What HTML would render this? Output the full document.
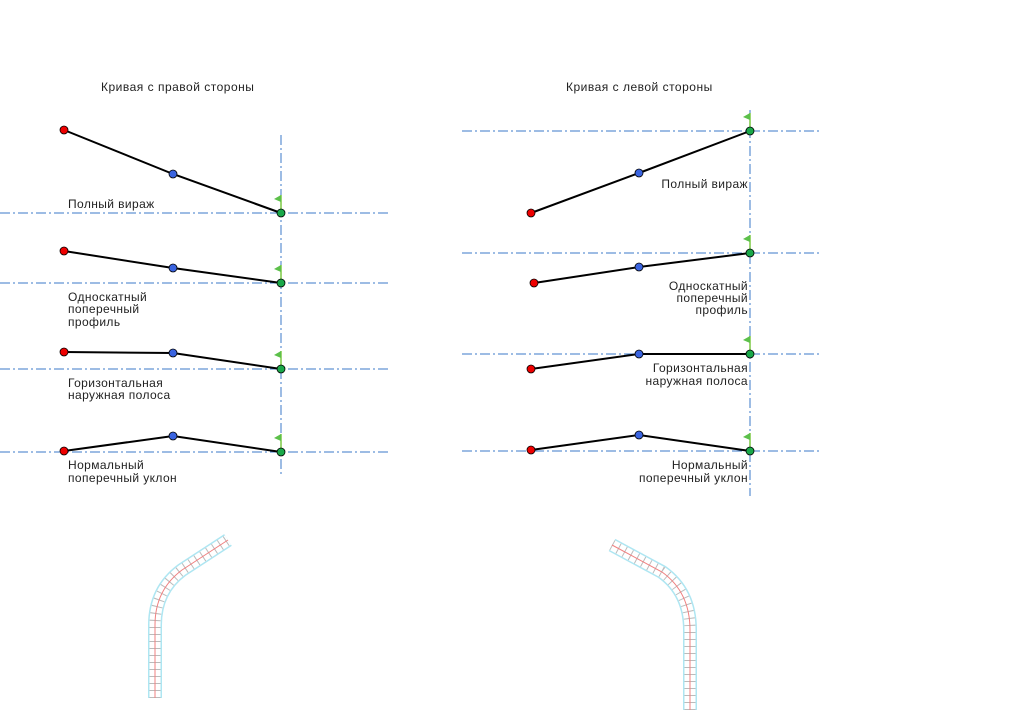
<!DOCTYPE html><html><head><meta charset="utf-8"><style>body{margin:0;background:#fff}svg{display:block}text{font-family:"Liberation Sans","DejaVu Sans",sans-serif;font-size:12px;letter-spacing:0.4px;fill:#222}</style></head><body>
<svg width="1024" height="720" viewBox="0 0 1024 720">
<defs>
<g id="flag"><line x1="0" y1="0" x2="0" y2="-18" stroke="#7ac943" stroke-width="1.5"/><polygon points="0,-18 -7,-14 0,-11" fill="#5cc04a"/></g>
</defs>
<text x="101" y="91" style="letter-spacing:0.5px">Кривая с правой стороны</text>
<text x="566" y="91" style="letter-spacing:0.5px">Кривая с левой стороны</text>
<g stroke="#3b78c8" stroke-width="1" stroke-dasharray="10,3,2,3" fill="none">
<line x1="281" y1="135" x2="281" y2="474"/>
<line x1="0" y1="213" x2="390" y2="213"/><line x1="0" y1="283" x2="390" y2="283"/><line x1="0" y1="369" x2="390" y2="369"/><line x1="0" y1="452" x2="390" y2="452"/>
<line x1="750" y1="110" x2="750" y2="496"/>
<line x1="462" y1="131" x2="820" y2="131"/><line x1="462" y1="253" x2="820" y2="253"/><line x1="462" y1="354" x2="820" y2="354"/><line x1="462" y1="451" x2="820" y2="451"/>
</g>
<g stroke="#000" stroke-width="2" fill="none">
<polyline points="64,130 173,174 281,213"/><polyline points="64,251 173,268 281,283"/><polyline points="64,352 173,353 281,369"/><polyline points="64,451 173,436 281,452"/>
<polyline points="531,213 639,173 750,131"/><polyline points="534,283 639,267 750,253"/><polyline points="531,369 639,354 750,354"/><polyline points="531,450 639,435 750,451"/>
</g>
<g><use href="#flag" x="281" y="213"/><use href="#flag" x="281" y="283"/><use href="#flag" x="281" y="369"/><use href="#flag" x="281" y="452"/>
<use href="#flag" x="750" y="131"/><use href="#flag" x="750" y="253"/><use href="#flag" x="750" y="354"/><use href="#flag" x="750" y="451"/></g>
<g stroke="#000" stroke-width="0.8">
<g fill="#e00"><circle cx="64" cy="130" r="4"/><circle cx="64" cy="251" r="4"/><circle cx="64" cy="352" r="4"/><circle cx="64" cy="451" r="4"/><circle cx="531" cy="213" r="4"/><circle cx="534" cy="283" r="4"/><circle cx="531" cy="369" r="4"/><circle cx="531" cy="450" r="4"/></g>
<g fill="#3a64e0"><circle cx="173" cy="174" r="4"/><circle cx="173" cy="268" r="4"/><circle cx="173" cy="353" r="4"/><circle cx="173" cy="436" r="4"/><circle cx="639" cy="173" r="4"/><circle cx="639" cy="267" r="4"/><circle cx="639" cy="354" r="4"/><circle cx="639" cy="435" r="4"/></g>
<g fill="#1aa84a"><circle cx="281" cy="213" r="4"/><circle cx="281" cy="283" r="4"/><circle cx="281" cy="369" r="4"/><circle cx="281" cy="452" r="4"/><circle cx="750" cy="131" r="4"/><circle cx="750" cy="253" r="4"/><circle cx="750" cy="354" r="4"/><circle cx="750" cy="451" r="4"/></g>
</g>
<text x="68" y="208">Полный вираж</text>
<text x="68" y="301">Односкатный</text><text x="68" y="313">поперечный</text><text x="68" y="326">профиль</text>
<text x="68" y="387">Горизонтальная</text><text x="68" y="399">наружная полоса</text>
<text x="68" y="469">Нормальный</text><text x="68" y="482">поперечный уклон</text>
<g text-anchor="end">
<text x="748" y="188">Полный вираж</text>
<text x="748" y="290">Односкатный</text><text x="748" y="302">поперечный</text><text x="748" y="314">профиль</text>
<text x="748" y="372">Горизонтальная</text><text x="748" y="385">наружная полоса</text>
<text x="748" y="469">Нормальный</text><text x="748" y="482">поперечный уклон</text>
</g>
<g fill="none">
<path d="M155,698 L155,625 Q155,590 182,570 L228,540" stroke="#aee6f2" stroke-width="14"/>
<path d="M155,698 L155,625 Q155,590 182,570 L228,540" stroke="#fff" stroke-width="11"/>
<path d="M155,698 L155,625 Q155,590 182,570 L228,540" stroke="#bbb" stroke-width="11" stroke-dasharray="1,6"/>
<path d="M155,698 L155,625 Q155,590 182,570 L228,540" stroke="#f08080" stroke-width="1"/>
<path d="M690,710 L690,630 Q690,592 662,572 L612,545" stroke="#aee6f2" stroke-width="14"/>
<path d="M690,710 L690,630 Q690,592 662,572 L612,545" stroke="#fff" stroke-width="11"/>
<path d="M690,710 L690,630 Q690,592 662,572 L612,545" stroke="#bbb" stroke-width="11" stroke-dasharray="1,6"/>
<path d="M690,710 L690,630 Q690,592 662,572 L612,545" stroke="#f08080" stroke-width="1"/>
</g>
</svg></body></html>
